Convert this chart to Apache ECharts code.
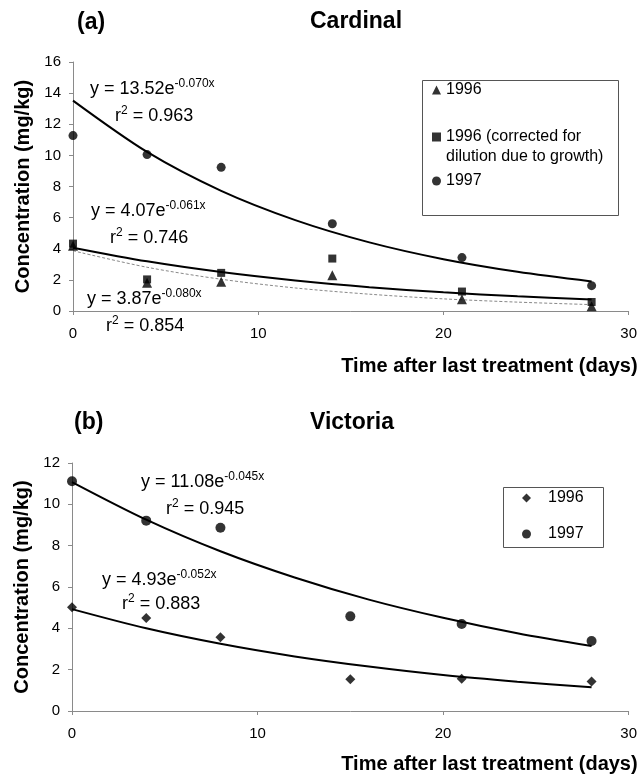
<!DOCTYPE html>
<html>
<head>
<meta charset="utf-8">
<script src="https://cdn.jsdelivr.net/npm/echarts@6/dist/echarts.min.js"></script>
<style>
  html, body { margin: 0; padding: 0; background: #fff; }
  #chart { width: 640px; height: 776px; }
</style>
</head>
<body>
<div id="chart"></div>
<script>
// ---------- data ----------
const xTicks = [0, 10, 20, 30];

// (a) Cardinal
const cardinalDays = [0, 4, 8, 14, 21, 28];
const cardinal1996 = [4.2, 1.82, 1.88, 2.3, 0.75, 0.3];
const cardinal1996Corrected = [4.33, 2.03, 2.45, 3.37, 1.25, 0.58];
const cardinal1997 = [11.27, 10.05, 9.23, 5.61, 3.43, 1.63];

// (b) Victoria
const victoriaDays = [0, 4, 8, 15, 21, 28];
const victoria1996 = [5.02, 4.5, 3.57, 1.54, 1.56, 1.43];
const victoria1997 = [11.12, 9.21, 8.87, 4.58, 4.21, 3.39];

// fitted exponential trend lines
const trendDays = [0, 4, 8, 12, 16, 20, 24, 28];
const trendCardinal1997 = [13.52, 10.22, 7.72, 5.84, 4.41, 3.33, 2.52, 1.90];
const trendCardinal1996Corrected = [4.07, 3.19, 2.50, 1.96, 1.53, 1.20, 0.94, 0.74];
const trendCardinal1996 = [3.87, 2.81, 2.04, 1.48, 1.08, 0.78, 0.57, 0.41];
const trendVictoria1997 = [11.08, 9.26, 7.73, 6.46, 5.39, 4.51, 3.76, 3.14];
const trendVictoria1996 = [4.93, 4.00, 3.25, 2.64, 2.15, 1.74, 1.42, 1.15];

const NAME_1996 = '1996';
const NAME_1996C = '1996 (corrected for dilution due to growth)';
const NAME_1997 = '1997';

// ---------- helpers ----------
const FONT = "'Liberation Sans', Arial, Helvetica, sans-serif";
const pairs = (xs, ys) => xs.map((x, i) => [x, ys[i]]);

function richStyle() {
  return {
    m: { fontSize: 18, lineHeight: 22, fontFamily: FONT, fill: '#000' },
    s: { fontSize: 12, lineHeight: 12, fontFamily: FONT, fill: '#000', verticalAlign: 'top' }
  };
}
function eqText(x, y, main, sup) {
  return {
    type: 'text', x: x, y: y, silent: true,
    style: {
      text: '{m|' + main + '}{s|' + sup + '}',
      align: 'left', verticalAlign: 'middle',
      fill: '#000', fontFamily: FONT, rich: richStyle()
    }
  };
}
function r2Text(x, y, val) {
  return {
    type: 'text', x: x, y: y, silent: true,
    style: {
      text: '{m|r}{s|2}{m| = ' + val + '}',
      align: 'left', verticalAlign: 'middle',
      fill: '#000', fontFamily: FONT, rich: richStyle()
    }
  };
}

const axisLineStyle = { show: true, lineStyle: { color: '#8a8a8a', width: 1 } };
const axisTickStyle = { show: true, length: 4, lineStyle: { color: '#8a8a8a', width: 1 } };
const labelStyle = { color: '#000', fontSize: 15, fontFamily: FONT };
const xNameStyle = (padTop) => ({
  color: '#000', fontSize: 20, fontWeight: 'bold', fontFamily: FONT,
  align: 'right', verticalAlign: 'top', padding: [padTop, 0, 0, 0]
});
const yNameStyle = { color: '#000', fontSize: 20, fontWeight: 'bold', fontFamily: FONT };

function makeX(gridIndex, padTop) {
  return {
    type: 'value', gridIndex: gridIndex, min: 0, max: 30, interval: 10,
    axisLine: axisLineStyle, axisTick: axisTickStyle,
    axisLabel: Object.assign({ margin: 15 }, labelStyle),
    splitLine: { show: false },
    name: 'Time after last treatment (days)', nameLocation: 'end', nameGap: 9,
    nameTextStyle: xNameStyle(padTop)
  };
}
function makeY(gridIndex, max) {
  return {
    type: 'value', gridIndex: gridIndex, min: 0, max: max, interval: 2,
    axisLine: axisLineStyle, axisTick: axisTickStyle,
    axisLabel: Object.assign({ margin: 12 }, labelStyle),
    splitLine: { show: false },
    name: 'Concentration (mg/kg)', nameLocation: 'middle', nameGap: 39, nameRotate: 90,
    nameTextStyle: yNameStyle
  };
}
function scatter(name, xi, data, symbol, size) {
  return {
    name: name, type: 'scatter', xAxisIndex: xi, yAxisIndex: xi,
    data: data, symbol: symbol, symbolSize: size,
    itemStyle: { color: '#000' }, z: 5
  };
}
function trend(name, xi, data, style) {
  return {
    name: name, type: 'line', xAxisIndex: xi, yAxisIndex: xi,
    data: data, smooth: 0.3, showSymbol: false, silent: true,
    lineStyle: style, z: 3
  };
}

function legendItem(name, icon, left, top, textPadLeft, formatter) {
  const l = {
    data: [{ name: name, icon: icon }], left: left, top: top, orient: 'vertical',
    padding: 0, itemWidth: 9, itemHeight: 9, itemGap: 0,
    textStyle: { color: '#000', fontSize: 16, fontFamily: FONT, lineHeight: 20, padding: [0, 0, 0, textPadLeft] },
    selectedMode: false
  };
  if (formatter) l.formatter = formatter;
  return l;
}

const titleStyle = { fontSize: 23, fontWeight: 'bold', color: '#000', fontFamily: FONT, lineHeight: 23 };

const option = {
  backgroundColor: '#fff',
  animation: false,
  title: [
    { text: '(a)', left: 77, top: 11, padding: 0, textStyle: titleStyle },
    { text: 'Cardinal', left: 310, top: 10, padding: 0, textStyle: titleStyle },
    { text: '(b)', left: 74, top: 411, padding: 0, textStyle: titleStyle },
    { text: 'Victoria', left: 310, top: 411, padding: 0, textStyle: titleStyle }
  ],
  grid: [
    { left: 73, right: 10, top: 62, height: 249 },
    { left: 72, right: 10, top: 463, height: 248 }
  ],
  xAxis: [makeX(0, 45), makeX(1, 43)],
  yAxis: [makeY(0, 16), makeY(1, 12)],
  legend: [
    legendItem(NAME_1996, 'triangle', 432, 80, 0),
    legendItem(NAME_1996C, 'rect', 432, 127, 0, () => '1996 (corrected for'),
    legendItem(NAME_1997, 'circle', 432, 171, 0),
    legendItem(NAME_1996, 'diamond', 522, 488, 12),
    legendItem(NAME_1997, 'circle', 522, 524, 12)
  ],
  series: [
    trend('Fit 1997 (Cardinal)', 0, pairs(trendDays, trendCardinal1997), { color: '#000', width: 2 }),
    trend('Fit 1996 corrected (Cardinal)', 0, pairs(trendDays, trendCardinal1996Corrected), { color: '#000', width: 2 }),
    trend('Fit 1996 (Cardinal)', 0, pairs(trendDays, trendCardinal1996), { color: '#888', width: 1, type: [3, 2] }),
    scatter(NAME_1996, 0, pairs(cardinalDays, cardinal1996), 'triangle', 10),
    scatter(NAME_1996C, 0, pairs(cardinalDays, cardinal1996Corrected), 'rect', 8),
    scatter(NAME_1997, 0, pairs(cardinalDays, cardinal1997), 'circle', 9),

    trend('Fit 1997 (Victoria)', 1, pairs(trendDays, trendVictoria1997), { color: '#000', width: 2 }),
    trend('Fit 1996 (Victoria)', 1, pairs(trendDays, trendVictoria1996), { color: '#000', width: 2 }),
    scatter(NAME_1996, 1, pairs(victoriaDays, victoria1996), 'diamond', 10),
    scatter(NAME_1997, 1, pairs(victoriaDays, victoria1997), 'circle', 10)
  ],
  graphic: [
    { type: 'rect', shape: { x: 422.5, y: 80.5, width: 196, height: 135 }, style: { fill: 'none', stroke: '#555', lineWidth: 1 }, silent: true, z: 1 },
    { type: 'text', x: 446, y: 157, silent: true, style: { text: 'dilution due to growth)', fill: '#000', fontSize: 16, fontFamily: FONT, align: 'left', verticalAlign: 'middle' } },
    { type: 'rect', shape: { x: 503.5, y: 487.5, width: 100, height: 60 }, style: { fill: 'none', stroke: '#555', lineWidth: 1 }, silent: true, z: 1 },

    eqText(90, 89, 'y = 13.52e', '-0.070x'),
    r2Text(115, 116, '0.963'),
    eqText(91, 211, 'y = 4.07e', '-0.061x'),
    r2Text(110, 238, '0.746'),
    eqText(87, 299, 'y = 3.87e', '-0.080x'),
    r2Text(106, 326, '0.854'),

    eqText(141, 482, 'y = 11.08e', '-0.045x'),
    r2Text(166, 509, '0.945'),
    eqText(102, 580, 'y = 4.93e', '-0.052x'),
    r2Text(122, 604, '0.883')
  ]
};

const chart = echarts.init(document.getElementById('chart'), null, { renderer: 'canvas' });
chart.setOption(option);
</script>
</body>
</html>
